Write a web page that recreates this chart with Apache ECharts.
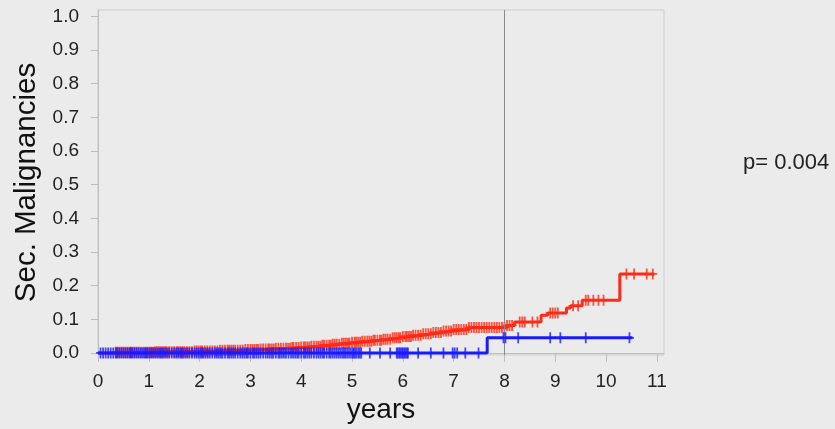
<!DOCTYPE html>
<html><head><meta charset="utf-8">
<script src="https://cdn.jsdelivr.net/npm/echarts@6/dist/echarts.min.js"></script>
<style>html,body{margin:0;padding:0;background:#ebebeb;}#c{width:835px;height:429px;}</style>
</head><body><div id="c"></div>
<script>
// Kaplan-Meier style cumulative incidence (step points: from time t value holds)
const redTimes = [0, 0.35, 1.1, 1.9, 2.4, 2.9, 3.2, 3.5, 3.8, 4.0, 4.2, 4.4, 4.6, 4.8, 5.0, 5.2, 5.4, 5.6, 5.8, 6.0, 6.2, 6.4, 6.6, 6.8, 7.0, 7.3, 8.05, 8.2, 8.72, 8.85, 9.22, 9.3, 9.53, 10.27, 10.95];
const redVals  = [0, 0.002, 0.004, 0.006, 0.008, 0.010, 0.012, 0.014, 0.016, 0.018, 0.020, 0.023, 0.026, 0.029, 0.032, 0.035, 0.038, 0.041, 0.045, 0.049, 0.053, 0.057, 0.061, 0.065, 0.070, 0.076, 0.082, 0.092, 0.112, 0.119, 0.134, 0.140, 0.157, 0.235, 0.235];
const blueTimes = [0, 7.66, 10.52];
const blueVals  = [0, 0.045, 0.045];
const redCensor = [0.35,0.38,0.42,0.46,0.5,0.54,0.58,0.62,0.65,0.68,0.72,0.76,0.8,0.85,0.9,0.94,0.98,1.02,1.05,1.08,1.12,1.16,1.2,1.24,1.28,1.32,1.35,1.4,1.45,1.5,1.55,1.58,1.62,1.66,1.7,1.75,1.8,1.85,1.9,1.94,1.98,2.02,2.05,2.1,2.15,2.2,2.25,2.3,2.35,2.4,2.45,2.5,2.55,2.58,2.62,2.66,2.7,2.75,2.8,2.85,2.9,2.95,3.0,3.04,3.08,3.12,3.15,3.2,3.25,3.3,3.35,3.38,3.42,3.46,3.5,3.55,3.6,3.65,3.7,3.74,3.78,3.82,3.85,3.9,3.95,4.0,4.05,4.08,4.12,4.16,4.2,4.25,4.3,4.34,4.38,4.42,4.45,4.5,4.55,4.58,4.62,4.66,4.7,4.75,4.8,4.84,4.88,4.92,4.95,5.0,5.05,5.08,5.12,5.16,5.2,5.25,5.3,5.34,5.38,5.42,5.45,5.5,5.55,5.58,5.62,5.66,5.7,5.75,5.8,5.84,5.88,5.92,5.95,6.0,6.05,6.08,6.12,6.16,6.2,6.25,6.3,6.35,6.4,6.45,6.5,6.55,6.6,6.65,6.7,6.75,6.8,6.85,6.9,6.95,7.0,7.05,7.1,7.15,7.2,7.25,7.3,7.35,7.4,7.45,7.5,7.55,7.6,7.65,7.7,7.75,7.8,7.85,7.9,7.95,8.0,8.05,8.1,8.15,8.3,8.35,8.4,8.55,8.65,8.9,8.95,9.0,9.05,9.35,9.45,9.6,9.65,9.75,9.85,9.95,10.4,10.55,10.8,10.92];
const blueCensor = [0.05,0.1,0.15,0.2,0.25,0.3,0.35,0.38,0.42,0.46,0.5,0.54,0.58,0.62,0.65,0.68,0.72,0.76,0.8,0.84,0.88,0.92,0.95,0.98,1.02,1.06,1.1,1.14,1.18,1.22,1.25,1.28,1.32,1.36,1.4,1.45,1.5,1.54,1.58,1.62,1.65,1.68,1.72,1.76,1.8,1.85,1.9,1.94,1.98,2.02,2.05,2.08,2.12,2.16,2.2,2.25,2.3,2.34,2.38,2.42,2.45,2.5,2.55,2.58,2.62,2.66,2.7,2.75,2.8,2.84,2.88,2.92,2.95,3.0,3.05,3.08,3.12,3.16,3.2,3.25,3.3,3.34,3.38,3.42,3.45,3.5,3.55,3.58,3.62,3.66,3.7,3.75,3.8,3.84,3.88,3.92,3.95,4.0,4.05,4.08,4.12,4.16,4.2,4.25,4.3,4.34,4.38,4.42,4.45,4.5,4.55,4.58,4.62,4.66,4.7,4.74,4.78,4.82,4.85,4.88,4.92,4.96,5.0,5.03,5.05,5.08,5.12,5.15,5.18,5.35,5.55,5.75,5.88,5.9,5.93,5.95,5.98,6.0,6.03,6.05,6.08,6.1,6.3,6.55,6.8,6.98,7.02,7.07,7.23,7.49,7.98,8.02,8.27,8.9,9.1,9.6,10.46];
const xTicks = [0,1,2,3,4,5,6,7,8,9,10,11];
const yTicks = [0,0.1,0.2,0.3,0.4,0.5,0.6,0.7,0.8,0.9,1.0];
const pText = 'p= 0.004';
const refLineX = 8;

function stepAt(times, vals, t){ let v = vals[0]; for (let i=0;i<times.length;i++){ if (times[i] <= t) v = vals[i]; } return v; }
const pair = (a,b) => a.map((t,i)=>[t,b[i]]);
const cross = 'path://M-1,-5H1V-0.8H5V0.8H1V5H-1V0.8H-5V-0.8H-1Z';
const RED = '#ff2a17', BLUE = '#1a1aff';
const FONT = 'Liberation Sans, Arial, sans-serif';

const chart = echarts.init(document.getElementById('c'), null, {renderer:'canvas'});
chart.setOption({
  backgroundColor: '#ebebeb',
  animation: false,
  grid: {left: 98, right: 171, top: 10, bottom: 74, show: true, borderColor: '#cdcdcd', borderWidth: 1, backgroundColor: 'transparent'},
  xAxis: {type:'value', min: 0, max: 11.14, interval: 1, offset: 4,
    axisLine:{show:true, lineStyle:{color:'#bdbdbd', width:1}},
    axisTick:{show:true, length:9, lineStyle:{color:'#bdbdbd'}, customValues: xTicks},
    axisLabel:{fontSize:19, color:'#222', fontFamily:FONT, margin:13, customValues: xTicks},
    splitLine:{show:false},
    name:'years', nameLocation:'middle', nameGap:36, nameTextStyle:{fontSize:28, color:'#111', fontFamily:FONT}},
  yAxis: {type:'value', min: -0.006, max: 1.019, offset: 6,
    axisLine:{show:true, lineStyle:{color:'#bdbdbd', width:1}},
    axisTick:{show:true, length:7, lineStyle:{color:'#bdbdbd'}, customValues: yTicks},
    axisLabel:{fontSize:19, color:'#222', fontFamily:FONT, margin:13, customValues: yTicks, formatter: v => v.toFixed(1)},
    splitLine:{show:false},
    name:'Sec. Malignancies', nameLocation:'middle', nameGap:47, nameTextStyle:{fontSize:29.5, color:'#111', fontFamily:FONT}},
  graphic: [{type:'text', left: 743, top: 152, style:{text: pText, font: '22px ' + FONT, fill:'#222'}}],
  series: [
    {type:'line', step:'end', data: pair(redTimes, redVals), showSymbol:false, lineStyle:{color:RED, width:3}, z:3,
      markLine:{silent:true, symbol:['none','none'], label:{show:false}, lineStyle:{color:'#8a8a8a', width:1, type:'solid'}, data:[{xAxis: refLineX}]}},
    {type:'line', step:'end', data: pair(blueTimes, blueVals), showSymbol:false, lineStyle:{color:BLUE, width:3}, z:4},
    {type:'scatter', data: redCensor.map(t=>[t, stepAt(redTimes, redVals, t)]), symbol: cross, symbolSize:[9,11], itemStyle:{color:RED}, z:3},
    {type:'scatter', data: blueCensor.map(t=>[t, stepAt(blueTimes, blueVals, t)]), symbol: cross, symbolSize:[9,11], itemStyle:{color:BLUE}, z:5}
  ]
});
</script></body></html>
